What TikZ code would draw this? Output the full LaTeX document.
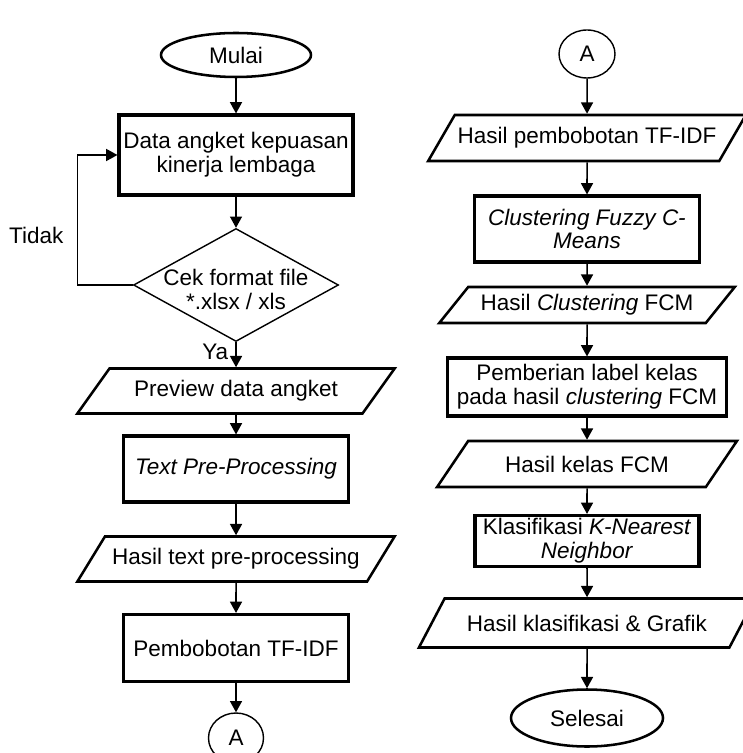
\documentclass[tikz,border=0pt]{standalone}
\usepackage{fontspec}
\setmainfont{Liberation Sans}
\usetikzlibrary{positioning, shapes.geometric, arrows.meta}
\newcommand{\pxu}{0.025cm}

\begin{document}
\begin{tikzpicture}[x=0.025cm, y=-0.025cm, font=\fontsize{16}{17}\selectfont,
    terminal/.style={draw, ellipse, line width=1.8pt, inner sep=0pt},
    konektor/.style={draw, ellipse, line width=1pt, inner sep=0pt},
    proses/.style={draw, rectangle, line width=2.2pt, align=center, inner sep=2pt},
    keputusan/.style={draw, diamond, line width=1pt, inner sep=0pt},
    berkas/.style={draw, trapezium, trapezium left angle=45, trapezium right angle=135,
                   trapezium stretches=true, line width=1.8pt, align=center, inner sep=2pt},
    panah/.style={-{Triangle[length=8pt,width=8.5pt]}, line width=1.1pt}]
    \useasboundingbox (0,0) rectangle (742,753);

    % kolom kiri
    \node[terminal, minimum width=150*\pxu, minimum height=44*\pxu] (mulai) at (236,55) {Mulai};
    \node[proses, minimum width=234*\pxu, minimum height=80*\pxu] (data) at (236,155)
          {Data angket kepuasan\\kinerja lembaga};
    \node[keputusan, minimum width=205*\pxu, minimum height=113*\pxu,
          label={[align=center, yshift=-3pt]center:Cek format file\\*.xlsx / xls}] (cek) at (236,285) {};
    \node[berkas, minimum width=318*\pxu, minimum height=45*\pxu] (preview) at (236,391) {Preview data angket};
    \node[proses, minimum width=225*\pxu, minimum height=66*\pxu] (prepro) at (236,469)
          {\textit{Text Pre-Processing}};
    \node[berkas, minimum width=318*\pxu, minimum height=45*\pxu] (hasilprepro) at (236,559)
          {Hasil text pre-processing};
    \node[proses, minimum width=225*\pxu, minimum height=67*\pxu] (tfidf) at (236,648) {Pembobotan TF-IDF};
    \node[konektor, minimum width=55*\pxu, minimum height=50*\pxu] (konA) at (236,738) {A};

    \draw[panah] (mulai) -- (data);
    \draw[panah] (data) -- (cek);
    \draw[panah] (cek) -- node[pos=0.4, left, inner sep=5pt] {Ya} (preview);
    \draw[panah] (cek.west) -- ++(-55.5,0) |- node[pos=0.19, left=6pt] {Tidak} (data.west);
    \draw[panah] (preview) -- (prepro);
    \draw[panah] (prepro) -- (hasilprepro);
    \draw[panah] (hasilprepro) -- (tfidf);
    \draw[panah] (tfidf) -- (konA);

    % kolom kanan
    \node[konektor, minimum width=56*\pxu, minimum height=48*\pxu] (konB) at (587,54) {A};
    \node[berkas, minimum width=315*\pxu, minimum height=46*\pxu] (hasiltfidf) at (587,138)
          {Hasil pembobotan TF-IDF};
    \node[proses, minimum width=225*\pxu, minimum height=66*\pxu] (fcm) at (587,229)
          {\textit{Clustering Fuzzy C-}\\\textit{Means}};
    \node[berkas, minimum width=296*\pxu, minimum height=36*\pxu] (hasilfcm) at (587,305)
          {Hasil \textit{Clustering} FCM};
    \node[proses, minimum width=279*\pxu, minimum height=58*\pxu] (label) at (587,387)
          {Pemberian label kelas\\pada hasil \textit{clustering} FCM};
    \node[berkas, minimum width=300*\pxu, minimum height=46*\pxu] (kelas) at (587,464) {Hasil kelas FCM};
    \node[proses, minimum width=224*\pxu, minimum height=51*\pxu] (knn) at (587,541)
          {Klasifikasi \textit{K-Nearest}\\\textit{Neighbor}};
    \node[berkas, minimum width=337*\pxu, minimum height=49*\pxu] (grafik) at (587,623)
          {Hasil klasifikasi \& Grafik};
    \node[terminal, minimum width=152*\pxu, minimum height=57*\pxu] (selesai) at (587,718) {Selesai};

    \draw[panah] (konB) -- (hasiltfidf);
    \draw[panah] (hasiltfidf) -- (fcm);
    \draw[panah] (fcm) -- (hasilfcm);
    \draw[panah] (hasilfcm) -- (label);
    \draw[panah] (label) -- (kelas);
    \draw[panah] (kelas) -- (knn);
    \draw[panah] (knn) -- (grafik);
    \draw[panah] (grafik) -- (selesai);
\end{tikzpicture}
\end{document}
